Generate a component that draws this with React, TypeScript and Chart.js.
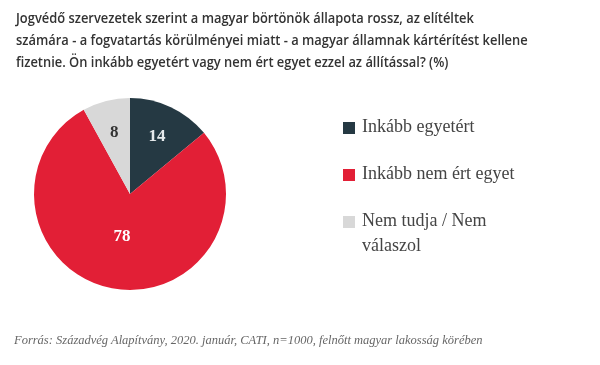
import React, { useEffect, useRef } from "react";
import { Chart, registerables } from "chart.js";

Chart.register(...registerables);

const titleLines = [
  "Jogvédő szervezetek szerint a magyar börtönök állapota rossz, az elítéltek",
  "számára - a fogvatartás körülményei miatt - a magyar államnak kártérítést kellene",
  "fizetnie. Ön inkább egyetért vagy nem ért egyet ezzel az állítással? (%)",
];
const categories = ["Inkább egyetért", "Inkább nem ért egyet", "Nem tudja / Nem válaszol"];
const values = [14, 78, 8];
const colors = ["#253943", "#e21f36", "#d8d8d8"];
const labelColors = ["#e6eaec", "#ffffff", "#333333"];
const footer = "Forrás: Századvég Alapítvány, 2020. január, CATI, n=1000, felnőtt magyar lakosság körében";

const sliceLabels = {
  id: "sliceLabels",
  afterDatasetsDraw(chart: any) {
    const ctx = chart.ctx;
    const meta = chart.getDatasetMeta(0);
    meta.data.forEach((arc: any, i: number) => {
      const { x, y, startAngle, endAngle, outerRadius } = arc.getProps(
        ["x", "y", "startAngle", "endAngle", "outerRadius"],
        true
      );
      const mid = (startAngle + endAngle) / 2;
      const frac = values[i] > 50 ? 0.45 : 0.66;
      const r = outerRadius * frac;
      ctx.save();
      ctx.font = "bold 17px 'Liberation Serif', 'DejaVu Serif', serif";
      ctx.fillStyle = labelColors[i];
      ctx.textAlign = "center";
      ctx.textBaseline = "middle";
      ctx.fillText(String(values[i]), x + Math.cos(mid) * r, y + Math.sin(mid) * r);
      ctx.restore();
    });
  },
};

export default function App() {
  const ref = useRef<HTMLCanvasElement>(null);
  useEffect(() => {
    document.body.style.margin = "0";
    const chart = new Chart(ref.current!, {
      type: "pie",
      data: {
        labels: categories,
        datasets: [{ data: values, backgroundColor: colors, borderWidth: 0 }],
      },
      options: {
        animation: false,
        responsive: false,
        layout: { padding: { left: 34, right: 374, top: 98, bottom: 75 } },
        plugins: { legend: { display: false }, tooltip: { enabled: false } },
      },
      plugins: [sliceLabels],
    });
    return () => chart.destroy();
  }, []);

  return (
    <div style={{ position: "relative", width: 600, height: 365, background: "#fff", overflow: "hidden" }}>
      <canvas ref={ref} width={600} height={365} style={{ position: "absolute", left: 0, top: 0 }} />
      <div
        style={{
          position: "absolute",
          left: 16,
          top: 6,
          fontFamily: "'Open Sans', sans-serif",
          fontWeight: 600,
          fontSize: 15,
          lineHeight: "22px",
          color: "#333",
          whiteSpace: "nowrap",
          transform: "scaleX(0.86)",
          transformOrigin: "left top",
        }}
      >
        {titleLines.map((l, i) => (
          <div key={i}>{l}</div>
        ))}
      </div>
      <div style={{ position: "absolute", left: 343, top: 114, width: 175 }}>
        {categories.map((c, i) => (
          <div key={i} style={{ display: "flex", alignItems: "flex-start", marginBottom: 22 }}>
            <div style={{ width: 12, height: 12, background: colors[i], marginTop: 8, flex: "none" }} />
            <div
              style={{
                marginLeft: 7,
                fontFamily: "'Liberation Serif', serif",
                fontSize: 18,
                lineHeight: "25px",
                color: "#444",
              }}
            >
              {c}
            </div>
          </div>
        ))}
      </div>
      <div
        style={{
          position: "absolute",
          left: 14,
          top: 331,
          fontFamily: "'Liberation Serif', serif",
          fontStyle: "italic",
          fontSize: 12.5,
          lineHeight: "18px",
          color: "#666",
          whiteSpace: "nowrap",
        }}
      >
        {footer}
      </div>
    </div>
  );
}
